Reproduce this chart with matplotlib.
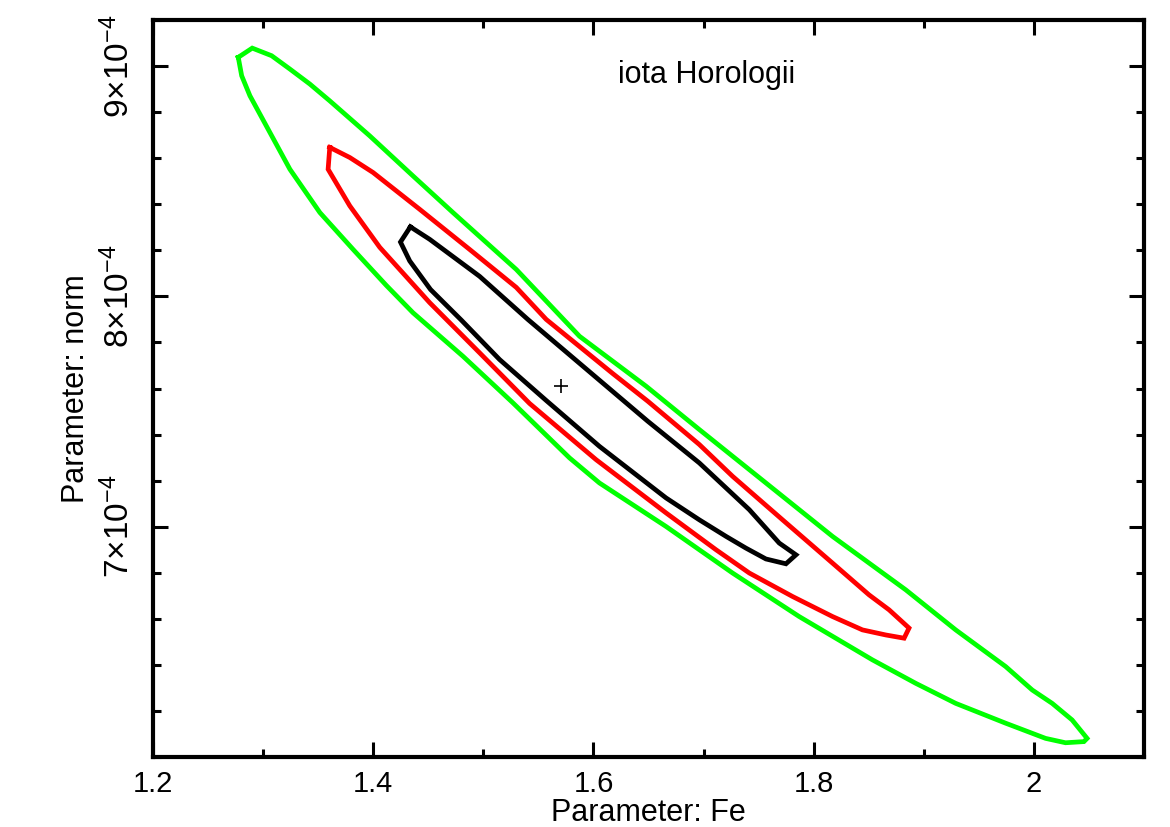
import matplotlib
matplotlib.use("Agg")
import matplotlib.pyplot as plt
from matplotlib.ticker import FixedLocator, MultipleLocator, FuncFormatter

plt.rcParams["font.family"] = ["Liberation Sans", "DejaVu Sans"]
plt.rcParams["mathtext.fontset"] = "custom"
plt.rcParams["mathtext.rm"] = "Liberation Sans"
plt.rcParams["mathtext.it"] = "Liberation Sans:italic"

# contour levels, x = Fe, y = norm in units of 1e-4
green_fe = [1.2774, 1.2901, 1.3077, 1.3243, 1.3424, 1.3605, 1.3968, 1.4361, 1.4724, 1.5299,
            1.5873, 1.6478, 1.6961, 1.7566, 1.8171, 1.8836, 1.9290, 1.9743, 1.9985, 2.0166,
            2.0347, 2.0483, 2.0454, 2.0287, 2.0106, 1.9743, 1.9290, 1.8927, 1.8533, 1.7868,
            1.7263, 1.6659, 1.6054, 1.5782, 1.5268, 1.4815, 1.4361, 1.4120, 1.3817, 1.3515,
            1.3243, 1.3061, 1.2880, 1.2805, 1.2774]
green_norm = [9.038, 9.078, 9.045, 8.987, 8.922, 8.849, 8.697, 8.523, 8.364, 8.117,
              7.827, 7.610, 7.422, 7.190, 6.958, 6.726, 6.552, 6.393, 6.291, 6.233,
              6.161, 6.081, 6.067, 6.062, 6.081, 6.147, 6.233, 6.320, 6.422, 6.610,
              6.799, 7.001, 7.190, 7.299, 7.538, 7.740, 7.929, 8.047, 8.204, 8.364,
              8.552, 8.712, 8.871, 8.958, 9.038]

red_fe = [1.3605, 1.3787, 1.3998, 1.4422, 1.4875, 1.5299, 1.5571, 1.6175, 1.6493, 1.6961,
          1.7263, 1.7717, 1.8171, 1.8503, 1.8685, 1.8866, 1.8821, 1.8655, 1.8443, 1.8171,
          1.7808, 1.7415, 1.7113, 1.6659, 1.6024, 1.5420, 1.4966, 1.4512, 1.4059, 1.3787,
          1.3590, 1.3605]
red_norm = [8.647, 8.603, 8.538, 8.378, 8.204, 8.039, 7.900, 7.665, 7.545, 7.357,
            7.219, 7.030, 6.842, 6.704, 6.639, 6.560, 6.516, 6.530, 6.552, 6.610,
            6.697, 6.799, 6.900, 7.060, 7.291, 7.535, 7.755, 7.973, 8.213, 8.393,
            8.552, 8.647]

black_fe = [1.4337, 1.4512, 1.4966, 1.5404, 1.6493, 1.6961, 1.7415, 1.7687, 1.7839, 1.7748,
            1.7566, 1.7385, 1.7204, 1.6961, 1.6659, 1.6054, 1.5571, 1.5147, 1.4800, 1.4520,
            1.4331, 1.4247, 1.4337]
black_norm = [8.302, 8.248, 8.087, 7.900, 7.458, 7.277, 7.074, 6.929, 6.878, 6.839,
              6.860, 6.907, 6.958, 7.030, 7.125, 7.349, 7.548, 7.726, 7.897, 8.030,
              8.154, 8.236, 8.302]

best_fe = 1.5707
best_norm = 7.610

contours = [
    (green_fe, green_norm, "#00ff00"),
    (red_fe, red_norm, "#ff0000"),
    (black_fe, black_norm, "#000000"),
]

fig = plt.figure(figsize=(11.7, 8.27), dpi=100)
ax = fig.add_axes([0.1308, 0.0846, 0.8470, 0.8912])

for fe, norm, color in contours:
    ax.plot(fe, [v * 1e-4 for v in norm], color=color, lw=3.4, solid_joinstyle="miter")

ax.plot([best_fe], [best_norm * 1e-4], marker="+", color="black", ms=10, mew=1.2, ls="none")

ax.set_xlim(1.2, 2.1)
ax.set_ylim(6e-4, 9.2e-4)

ax.xaxis.set_major_locator(FixedLocator([1.2, 1.4, 1.6, 1.8, 2.0]))
ax.xaxis.set_minor_locator(MultipleLocator(0.1))
ax.xaxis.set_major_formatter(FuncFormatter(lambda v, p: "2" if abs(v - 2) < 1e-9 else f"{v:.1f}"))

ax.yaxis.set_major_locator(FixedLocator([7e-4, 8e-4, 9e-4]))
ax.yaxis.set_minor_locator(MultipleLocator(0.2e-4))
ax.yaxis.set_major_formatter(FuncFormatter(lambda v, p: r"$%d{\times}10^{-4}$" % round(v * 1e4)))

ax.tick_params(which="both", direction="in", top=True, right=True, width=2.2, labelsize=21)
ax.tick_params(which="major", length=11)
ax.tick_params(which="minor", length=5.5)
ax.tick_params(axis="x", pad=9)
ax.tick_params(axis="y", pad=12, labelsize=24)
for lab in ax.get_yticklabels():
    lab.set_rotation(90)
    lab.set_va("center")

for sp in ax.spines.values():
    sp.set_linewidth(3.0)

ax.set_xlabel("Parameter: Fe", fontsize=22, labelpad=0)
ax.set_ylabel("Parameter: norm", fontsize=22, labelpad=8)

ax.text(0.559, 0.925, "iota Horologii", transform=ax.transAxes,
        ha="center", va="center", fontsize=22)

fig.savefig("out.png", dpi=100)
